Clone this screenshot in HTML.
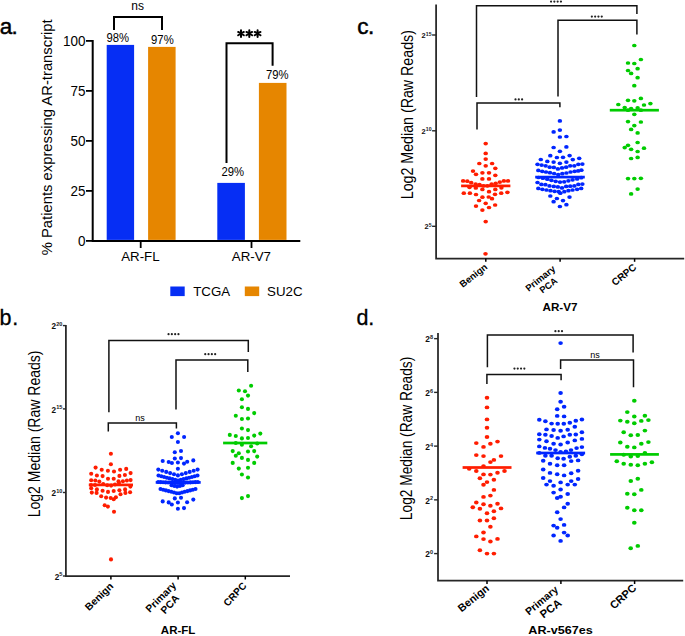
<!DOCTYPE html>
<html><head><meta charset="utf-8"><style>
html,body{margin:0;padding:0;background:#fff;}
svg{display:block;font-family:"Liberation Sans", sans-serif;}
</style></head><body>
<svg width="685" height="636" viewBox="0 0 685 636">
<rect width="685" height="636" fill="#fff"/>
<text x="-0.3" y="33.6" font-size="22.5" text-anchor="start" font-weight="normal" fill="#000" stroke="#000" stroke-width="0.45" letter-spacing="-0.8">a.</text>
<path d="M92.7,40.0 L92.7,240.9 L300.3,240.9" stroke="#000" stroke-width="2.0" fill="none"/>
<path d="M86,240.9 L92.7,240.9" stroke="#000" stroke-width="1.8" fill="none"/>
<text x="85.5" y="245.9" font-size="14.6" text-anchor="end" font-weight="normal" fill="#000" textLength="7.5" lengthAdjust="spacingAndGlyphs">0</text>
<path d="M86,190.9 L92.7,190.9" stroke="#000" stroke-width="1.8" fill="none"/>
<text x="85.5" y="195.9" font-size="14.6" text-anchor="end" font-weight="normal" fill="#000" textLength="15.0" lengthAdjust="spacingAndGlyphs">25</text>
<path d="M86,140.9 L92.7,140.9" stroke="#000" stroke-width="1.8" fill="none"/>
<text x="85.5" y="145.9" font-size="14.6" text-anchor="end" font-weight="normal" fill="#000" textLength="15.0" lengthAdjust="spacingAndGlyphs">50</text>
<path d="M86,90.9 L92.7,90.9" stroke="#000" stroke-width="1.8" fill="none"/>
<text x="85.5" y="95.9" font-size="14.6" text-anchor="end" font-weight="normal" fill="#000" textLength="15.0" lengthAdjust="spacingAndGlyphs">75</text>
<path d="M86,40.900000000000006 L92.7,40.900000000000006" stroke="#000" stroke-width="1.8" fill="none"/>
<text x="85.5" y="45.900000000000006" font-size="14.6" text-anchor="end" font-weight="normal" fill="#000" textLength="22.5" lengthAdjust="spacingAndGlyphs">100</text>
<path d="M140.7,240.9 L140.7,248.0" stroke="#000" stroke-width="1.8" fill="none"/>
<path d="M251.5,240.9 L251.5,248.0" stroke="#000" stroke-width="1.8" fill="none"/>
<rect x="106.7" y="44.900000000000006" width="27.39999999999999" height="195.0" fill="#062ef4"/>
<rect x="148.1" y="46.900000000000006" width="27.5" height="193.0" fill="#e68600"/>
<rect x="217.3" y="182.9" width="27.599999999999994" height="57.0" fill="#062ef4"/>
<rect x="258.9" y="82.9" width="27.600000000000023" height="157.0" fill="#e68600"/>
<text x="117.8" y="42.2" font-size="12.3" text-anchor="middle" font-weight="normal" fill="#000" textLength="22.6" lengthAdjust="spacingAndGlyphs">98%</text>
<text x="162.4" y="43.6" font-size="12.3" text-anchor="middle" font-weight="normal" fill="#000" textLength="22.6" lengthAdjust="spacingAndGlyphs">97%</text>
<text x="232.7" y="176.2" font-size="12.3" text-anchor="middle" font-weight="normal" fill="#000" textLength="22.6" lengthAdjust="spacingAndGlyphs">29%</text>
<text x="277.2" y="78.6" font-size="12.3" text-anchor="middle" font-weight="normal" fill="#000" textLength="22.6" lengthAdjust="spacingAndGlyphs">79%</text>
<path d="M114,30 L114,17 L162,17 L162,30" stroke="#000" stroke-width="2.0" fill="none"/>
<text x="137.6" y="9.6" font-size="12" text-anchor="middle" font-weight="normal" fill="#000" fill="#222">ns</text>
<path d="M226.5,163 L226.5,43.3 L272.6,43.3 L272.6,65.8" stroke="#000" stroke-width="2.0" fill="none"/>
<path d="M241.00,30.30 L241.00,36.90 M238.14,31.95 L243.86,35.25 M243.86,31.95 L238.14,35.25 " stroke="#000" stroke-width="2.0" stroke-linecap="round" fill="none"/>
<path d="M249.30,30.30 L249.30,36.90 M246.44,31.95 L252.16,35.25 M252.16,31.95 L246.44,35.25 " stroke="#000" stroke-width="2.0" stroke-linecap="round" fill="none"/>
<path d="M257.60,30.30 L257.60,36.90 M254.74,31.95 L260.46,35.25 M260.46,31.95 L254.74,35.25 " stroke="#000" stroke-width="2.0" stroke-linecap="round" fill="none"/>
<text x="0" y="0" font-size="15.2" text-anchor="middle" font-weight="normal" fill="#000" textLength="236" lengthAdjust="spacingAndGlyphs" transform="translate(51.8,137.3) rotate(-90)">% Patients expressing AR-transcript</text>
<text x="140.4" y="260.6" font-size="13.3" text-anchor="middle" font-weight="normal" fill="#000" >AR-FL</text>
<text x="251.4" y="260.6" font-size="13.3" text-anchor="middle" font-weight="normal" fill="#000" >AR-V7</text>
<rect x="170.3" y="286.5" width="14.399999999999977" height="9.600000000000023" fill="#062ef4"/>
<text x="193.2" y="296.3" font-size="13.3" text-anchor="start" font-weight="normal" fill="#000" >TCGA</text>
<rect x="244.8" y="286.5" width="14.399999999999977" height="9.600000000000023" fill="#e68600"/>
<text x="267.1" y="296.3" font-size="13.3" text-anchor="start" font-weight="normal" fill="#000" >SU2C</text>
<text x="-0.6" y="324.6" font-size="21.5" text-anchor="start" font-weight="normal" fill="#000" stroke="#000" stroke-width="0.3" letter-spacing="0.8">b.</text>
<path d="M65.9,325.0 L65.9,576.0 L290.0,576.0" stroke="#262626" stroke-width="1.75" fill="none"/>
<path d="M62.900000000000006,325.6 L65.9,325.6" stroke="#262626" stroke-width="1.4" fill="none"/>
<text x="62.40" y="326.00" font-size="5.6" font-weight="bold" text-anchor="end" fill="#222">20</text>
<text x="56.07" y="329.20" font-size="8.2" font-weight="bold" text-anchor="end" fill="#111">2</text>
<path d="M62.900000000000006,408.9 L65.9,408.9" stroke="#262626" stroke-width="1.4" fill="none"/>
<text x="62.40" y="409.30" font-size="5.6" font-weight="bold" text-anchor="end" fill="#222">15</text>
<text x="56.07" y="412.50" font-size="8.2" font-weight="bold" text-anchor="end" fill="#111">2</text>
<path d="M62.900000000000006,492.5 L65.9,492.5" stroke="#262626" stroke-width="1.4" fill="none"/>
<text x="62.40" y="492.90" font-size="5.6" font-weight="bold" text-anchor="end" fill="#222">10</text>
<text x="56.07" y="496.10" font-size="8.2" font-weight="bold" text-anchor="end" fill="#111">2</text>
<path d="M62.900000000000006,576.0 L65.9,576.0" stroke="#262626" stroke-width="1.4" fill="none"/>
<text x="62.40" y="576.40" font-size="5.6" font-weight="bold" text-anchor="end" fill="#222">5</text>
<text x="59.19" y="579.60" font-size="8.2" font-weight="bold" text-anchor="end" fill="#111">2</text>
<path d="M110.9,576.0 L110.9,579.5" stroke="#000" stroke-width="1.5" fill="none"/>
<path d="M178.1,576.0 L178.1,579.5" stroke="#000" stroke-width="1.5" fill="none"/>
<path d="M245.3,576.0 L245.3,579.5" stroke="#000" stroke-width="1.5" fill="none"/>
<text font-size="10.25" font-weight="bold" text-anchor="end" transform="translate(114.0,587.0) rotate(-44)">Benign</text>
<text font-size="10.25" font-weight="bold" text-anchor="end" transform="translate(176.8,586.0) rotate(-45)">Primary</text>
<text font-size="10.25" font-weight="bold" text-anchor="end" transform="translate(179.8,598.7) rotate(-47)">PCA</text>
<text font-size="10.0" font-weight="bold" text-anchor="end" transform="translate(247.1,586.2) rotate(-47)">CRPC</text>
<text x="178.1" y="634.4" font-size="11.5" text-anchor="middle" font-weight="bold" fill="#000" >AR-FL</text>
<text font-size="16" text-anchor="middle" textLength="166.8" lengthAdjust="spacingAndGlyphs" transform="translate(39.6,433.9) rotate(-90)">Log2 Median (Raw Reads)</text>
<path d="M108.9,412.3 L108.9,340.6 L248.3,340.6 L248.3,352" stroke="#111" stroke-width="1.5" fill="none"/>
<circle cx="168.55" cy="334.2" r="1.1" fill="#222"/>
<circle cx="171.85" cy="334.2" r="1.1" fill="#222"/>
<circle cx="175.15" cy="334.2" r="1.1" fill="#222"/>
<circle cx="178.45" cy="334.2" r="1.1" fill="#222"/>
<path d="M176,409.5 L176,359.9 L247.8,359.9 L247.8,371.9" stroke="#111" stroke-width="1.5" fill="none"/>
<circle cx="205.25" cy="354.2" r="1.1" fill="#222"/>
<circle cx="208.55" cy="354.2" r="1.1" fill="#222"/>
<circle cx="211.85" cy="354.2" r="1.1" fill="#222"/>
<circle cx="215.15" cy="354.2" r="1.1" fill="#222"/>
<path d="M108.3,431.4 L108.3,422.9 L176.4,422.9 L176.4,428.5" stroke="#111" stroke-width="1.5" fill="none"/>
<text x="140.1" y="421.0" font-size="9" text-anchor="middle" font-weight="normal" fill="#000" fill="#222">ns</text>
<text x="357.2" y="33.8" font-size="22.5" text-anchor="start" font-weight="normal" fill="#000" stroke="#000" stroke-width="0.5" letter-spacing="-0.5">c.</text>
<path d="M436.1,4.4 L436.1,258.5 L684.2,258.5" stroke="#262626" stroke-width="1.75" fill="none"/>
<path d="M432.1,35.0 L436.1,35.0" stroke="#262626" stroke-width="1.4" fill="none"/>
<text x="431.60" y="35.60" font-size="5.2" font-weight="bold" text-anchor="end" fill="#222">15</text>
<text x="425.72" y="37.90" font-size="7.4" font-weight="bold" text-anchor="end" fill="#111">2</text>
<path d="M432.1,130.8 L436.1,130.8" stroke="#262626" stroke-width="1.4" fill="none"/>
<text x="431.60" y="131.40" font-size="5.2" font-weight="bold" text-anchor="end" fill="#222">10</text>
<text x="425.72" y="133.70" font-size="7.4" font-weight="bold" text-anchor="end" fill="#111">2</text>
<path d="M432.1,226.3 L436.1,226.3" stroke="#262626" stroke-width="1.4" fill="none"/>
<text x="431.60" y="226.90" font-size="5.2" font-weight="bold" text-anchor="end" fill="#222">5</text>
<text x="428.61" y="229.20" font-size="7.4" font-weight="bold" text-anchor="end" fill="#111">2</text>
<path d="M485.8,258.5 L485.8,261.8" stroke="#000" stroke-width="1.5" fill="none"/>
<path d="M560.1,258.5 L560.1,261.8" stroke="#000" stroke-width="1.5" fill="none"/>
<path d="M634.6,258.5 L634.6,261.8" stroke="#000" stroke-width="1.5" fill="none"/>
<text font-size="9.5" font-weight="bold" text-anchor="end" transform="translate(488.1,268.1) rotate(-38)">Benign</text>
<text font-size="9.5" font-weight="bold" text-anchor="end" transform="translate(556.2,269.8) rotate(-39)">Primary</text>
<text font-size="9.25" font-weight="bold" text-anchor="end" transform="translate(558.1,282.1) rotate(-37)">PCA</text>
<text font-size="10.0" font-weight="bold" text-anchor="end" transform="translate(637.1,268.4) rotate(-39)">CRPC</text>
<text x="560" y="311" font-size="10.2" text-anchor="middle" font-weight="bold" fill="#000" textLength="35" lengthAdjust="spacingAndGlyphs">AR-V7</text>
<text font-size="16" text-anchor="middle" textLength="169.2" lengthAdjust="spacingAndGlyphs" transform="translate(412.9,114.65) rotate(-90)">Log2 Median (Raw Reads)</text>
<path d="M476.5,97 L476.5,5.8 L636.9,5.8 L636.9,14" stroke="#111" stroke-width="1.5" fill="none"/>
<circle cx="551.05" cy="1.6" r="1.1" fill="#222"/>
<circle cx="554.35" cy="1.6" r="1.1" fill="#222"/>
<circle cx="557.65" cy="1.6" r="1.1" fill="#222"/>
<circle cx="560.95" cy="1.6" r="1.1" fill="#222"/>
<path d="M558,96.6 L558,20.2 L636.9,20.2 L636.9,34.5" stroke="#111" stroke-width="1.5" fill="none"/>
<circle cx="591.85" cy="16.6" r="1.1" fill="#222"/>
<circle cx="595.15" cy="16.6" r="1.1" fill="#222"/>
<circle cx="598.45" cy="16.6" r="1.1" fill="#222"/>
<circle cx="601.75" cy="16.6" r="1.1" fill="#222"/>
<path d="M477,129.6 L477,103.1 L559.9,103.1 L559.9,107.2" stroke="#111" stroke-width="1.5" fill="none"/>
<circle cx="515.50" cy="99.4" r="1.1" fill="#222"/>
<circle cx="518.80" cy="99.4" r="1.1" fill="#222"/>
<circle cx="522.10" cy="99.4" r="1.1" fill="#222"/>
<text x="356.4" y="324.6" font-size="21.5" text-anchor="start" font-weight="normal" fill="#000" stroke="#000" stroke-width="0.3">d.</text>
<path d="M438.0,332.9 L438.0,580.5 L683.2,580.5" stroke="#262626" stroke-width="1.75" fill="none"/>
<path d="M434.1,338.64 L438.0,338.64" stroke="#262626" stroke-width="1.4" fill="none"/>
<text x="433.20" y="339.04" font-size="5.6" font-weight="bold" text-anchor="end" fill="#222">8</text>
<text x="429.99" y="342.34" font-size="8.4" font-weight="bold" text-anchor="end" fill="#111">2</text>
<path d="M434.1,392.38 L438.0,392.38" stroke="#262626" stroke-width="1.4" fill="none"/>
<text x="433.20" y="392.78" font-size="5.6" font-weight="bold" text-anchor="end" fill="#222">6</text>
<text x="429.99" y="396.08" font-size="8.4" font-weight="bold" text-anchor="end" fill="#111">2</text>
<path d="M434.1,446.12 L438.0,446.12" stroke="#262626" stroke-width="1.4" fill="none"/>
<text x="433.20" y="446.52" font-size="5.6" font-weight="bold" text-anchor="end" fill="#222">4</text>
<text x="429.99" y="449.82" font-size="8.4" font-weight="bold" text-anchor="end" fill="#111">2</text>
<path d="M434.1,499.86 L438.0,499.86" stroke="#262626" stroke-width="1.4" fill="none"/>
<text x="433.20" y="500.26" font-size="5.6" font-weight="bold" text-anchor="end" fill="#222">2</text>
<text x="429.99" y="503.56" font-size="8.4" font-weight="bold" text-anchor="end" fill="#111">2</text>
<path d="M434.1,553.6 L438.0,553.6" stroke="#262626" stroke-width="1.4" fill="none"/>
<text x="433.20" y="554.00" font-size="5.6" font-weight="bold" text-anchor="end" fill="#222">0</text>
<text x="429.99" y="557.30" font-size="8.4" font-weight="bold" text-anchor="end" fill="#111">2</text>
<path d="M487.0,580.5 L487.0,584" stroke="#000" stroke-width="1.5" fill="none"/>
<path d="M560.9,580.5 L560.9,584" stroke="#000" stroke-width="1.5" fill="none"/>
<path d="M634.6,580.5 L634.6,584" stroke="#000" stroke-width="1.5" fill="none"/>
<text font-size="10.75" font-weight="bold" text-anchor="end" transform="translate(489.9,589.5) rotate(-39)">Benign</text>
<text font-size="10.5" font-weight="bold" text-anchor="end" transform="translate(558.9,590.7) rotate(-40)">Primary</text>
<text font-size="11.25" font-weight="bold" text-anchor="end" transform="translate(562.5,604.5) rotate(-37)">PCA</text>
<text font-size="11.0" font-weight="bold" text-anchor="end" transform="translate(637.1,589.0) rotate(-42)">CRPC</text>
<text x="560.6" y="634.4" font-size="11.7" text-anchor="middle" font-weight="bold" fill="#000" textLength="64.5" lengthAdjust="spacingAndGlyphs">AR-v567es</text>
<text font-size="16" text-anchor="middle" textLength="163.4" lengthAdjust="spacingAndGlyphs" transform="translate(411.9,438.45) rotate(-90)">Log2 Median (Raw Reads)</text>
<path d="M487.4,367.2 L487.4,334.9 L633.1,334.9 L633.1,352.6" stroke="#111" stroke-width="1.5" fill="none"/>
<circle cx="555.40" cy="331.2" r="1.1" fill="#222"/>
<circle cx="558.70" cy="331.2" r="1.1" fill="#222"/>
<circle cx="562.00" cy="331.2" r="1.1" fill="#222"/>
<path d="M560.6,369.1 L560.6,360.1 L633.5,360.1 L633.5,387.2" stroke="#111" stroke-width="1.5" fill="none"/>
<text x="595.1" y="357.7" font-size="9" text-anchor="middle" font-weight="normal" fill="#000" fill="#222">ns</text>
<path d="M486.9,384 L486.9,374.6 L561.1,374.6 L561.1,380.3" stroke="#111" stroke-width="1.5" fill="none"/>
<circle cx="514.45" cy="368.6" r="1.1" fill="#222"/>
<circle cx="517.75" cy="368.6" r="1.1" fill="#222"/>
<circle cx="521.05" cy="368.6" r="1.1" fill="#222"/>
<circle cx="524.35" cy="368.6" r="1.1" fill="#222"/>
<ellipse cx="485.7" cy="143.6" rx="2.25" ry="1.85" fill="#ff1d00"/>
<ellipse cx="485.7" cy="153.4" rx="2.25" ry="1.85" fill="#ff1d00"/>
<ellipse cx="485.7" cy="159.1" rx="2.25" ry="1.85" fill="#ff1d00"/>
<ellipse cx="479.3" cy="163.5" rx="2.25" ry="1.85" fill="#ff1d00"/>
<ellipse cx="492.1" cy="163.5" rx="2.25" ry="1.85" fill="#ff1d00"/>
<ellipse cx="485.7" cy="165.8" rx="2.25" ry="1.85" fill="#ff1d00"/>
<ellipse cx="495.3" cy="168.3" rx="2.25" ry="1.85" fill="#ff1d00"/>
<ellipse cx="473" cy="171.1" rx="2.25" ry="1.85" fill="#ff1d00"/>
<ellipse cx="476" cy="174.3" rx="2.25" ry="1.85" fill="#ff1d00"/>
<ellipse cx="482.4" cy="172.8" rx="2.25" ry="1.85" fill="#ff1d00"/>
<ellipse cx="489" cy="172.8" rx="2.25" ry="1.85" fill="#ff1d00"/>
<ellipse cx="495.3" cy="175.3" rx="2.25" ry="1.85" fill="#ff1d00"/>
<ellipse cx="482.4" cy="178.9" rx="2.25" ry="1.85" fill="#ff1d00"/>
<ellipse cx="489" cy="178.9" rx="2.25" ry="1.85" fill="#ff1d00"/>
<ellipse cx="463.1" cy="180.9" rx="2.25" ry="1.85" fill="#ff1d00"/>
<ellipse cx="467.3" cy="181.2" rx="2.25" ry="1.85" fill="#ff1d00"/>
<ellipse cx="471.2" cy="182.7" rx="2.25" ry="1.85" fill="#ff1d00"/>
<ellipse cx="475.6" cy="184" rx="2.25" ry="1.85" fill="#ff1d00"/>
<ellipse cx="479.5" cy="184.5" rx="2.25" ry="1.85" fill="#ff1d00"/>
<ellipse cx="483.5" cy="185.8" rx="2.25" ry="1.85" fill="#ff1d00"/>
<ellipse cx="487.4" cy="185.8" rx="2.25" ry="1.85" fill="#ff1d00"/>
<ellipse cx="491.6" cy="184.2" rx="2.25" ry="1.85" fill="#ff1d00"/>
<ellipse cx="495.7" cy="183.3" rx="2.25" ry="1.85" fill="#ff1d00"/>
<ellipse cx="499.8" cy="182.1" rx="2.25" ry="1.85" fill="#ff1d00"/>
<ellipse cx="503.9" cy="180.9" rx="2.25" ry="1.85" fill="#ff1d00"/>
<ellipse cx="508" cy="180.9" rx="2.25" ry="1.85" fill="#ff1d00"/>
<ellipse cx="469.5" cy="187.3" rx="2.25" ry="1.85" fill="#ff1d00"/>
<ellipse cx="475.8" cy="188" rx="2.25" ry="1.85" fill="#ff1d00"/>
<ellipse cx="482.4" cy="189.4" rx="2.25" ry="1.85" fill="#ff1d00"/>
<ellipse cx="495.3" cy="189.4" rx="2.25" ry="1.85" fill="#ff1d00"/>
<ellipse cx="501.4" cy="187.8" rx="2.25" ry="1.85" fill="#ff1d00"/>
<ellipse cx="463.8" cy="193.2" rx="2.25" ry="1.85" fill="#ff1d00"/>
<ellipse cx="469.9" cy="193.2" rx="2.25" ry="1.85" fill="#ff1d00"/>
<ellipse cx="476" cy="194.5" rx="2.25" ry="1.85" fill="#ff1d00"/>
<ellipse cx="489" cy="191.7" rx="2.25" ry="1.85" fill="#ff1d00"/>
<ellipse cx="495" cy="194.3" rx="2.25" ry="1.85" fill="#ff1d00"/>
<ellipse cx="501.2" cy="193.2" rx="2.25" ry="1.85" fill="#ff1d00"/>
<ellipse cx="507.4" cy="192.3" rx="2.25" ry="1.85" fill="#ff1d00"/>
<ellipse cx="482.4" cy="197.2" rx="2.25" ry="1.85" fill="#ff1d00"/>
<ellipse cx="488.7" cy="197" rx="2.25" ry="1.85" fill="#ff1d00"/>
<ellipse cx="492" cy="198.7" rx="2.25" ry="1.85" fill="#ff1d00"/>
<ellipse cx="479.1" cy="200.5" rx="2.25" ry="1.85" fill="#ff1d00"/>
<ellipse cx="485.7" cy="203.3" rx="2.25" ry="1.85" fill="#ff1d00"/>
<ellipse cx="476" cy="206.1" rx="2.25" ry="1.85" fill="#ff1d00"/>
<ellipse cx="495.1" cy="205" rx="2.25" ry="1.85" fill="#ff1d00"/>
<ellipse cx="489" cy="207.5" rx="2.25" ry="1.85" fill="#ff1d00"/>
<ellipse cx="482.4" cy="210.1" rx="2.25" ry="1.85" fill="#ff1d00"/>
<ellipse cx="485.7" cy="221.6" rx="2.25" ry="1.85" fill="#ff1d00"/>
<ellipse cx="485.5" cy="253.8" rx="2.25" ry="1.85" fill="#ff1d00"/>
<rect x="461.1" y="184.55" width="49.299999999999955" height="2.7" fill="#ff1d00"/>
<ellipse cx="559.9" cy="120.9" rx="2.25" ry="1.85" fill="#0026ff"/>
<ellipse cx="559.9" cy="130.1" rx="2.25" ry="1.85" fill="#0026ff"/>
<ellipse cx="553.6" cy="131.9" rx="2.25" ry="1.85" fill="#0026ff"/>
<ellipse cx="559.9" cy="137" rx="2.25" ry="1.85" fill="#0026ff"/>
<ellipse cx="566.4" cy="136.5" rx="2.25" ry="1.85" fill="#0026ff"/>
<ellipse cx="553.6" cy="147.5" rx="2.25" ry="1.85" fill="#0026ff"/>
<ellipse cx="566.4" cy="146.9" rx="2.25" ry="1.85" fill="#0026ff"/>
<ellipse cx="559.9" cy="151.3" rx="2.25" ry="1.85" fill="#0026ff"/>
<ellipse cx="550.3" cy="155.7" rx="2.25" ry="1.85" fill="#0026ff"/>
<ellipse cx="556.9" cy="157.5" rx="2.25" ry="1.85" fill="#0026ff"/>
<ellipse cx="563" cy="157.3" rx="2.25" ry="1.85" fill="#0026ff"/>
<ellipse cx="569.6" cy="155.6" rx="2.25" ry="1.85" fill="#0026ff"/>
<ellipse cx="540.8" cy="159.5" rx="2.25" ry="1.85" fill="#0026ff"/>
<ellipse cx="572.8" cy="159.6" rx="2.25" ry="1.85" fill="#0026ff"/>
<ellipse cx="579.2" cy="158.3" rx="2.25" ry="1.85" fill="#0026ff"/>
<ellipse cx="547.3" cy="161.4" rx="2.25" ry="1.85" fill="#0026ff"/>
<ellipse cx="553.6" cy="162.1" rx="2.25" ry="1.85" fill="#0026ff"/>
<ellipse cx="559.9" cy="163.3" rx="2.25" ry="1.85" fill="#0026ff"/>
<ellipse cx="566.4" cy="162.1" rx="2.25" ry="1.85" fill="#0026ff"/>
<ellipse cx="537.5" cy="164.3" rx="2.25" ry="1.85" fill="#0026ff"/>
<ellipse cx="541.6" cy="165.1" rx="2.25" ry="1.85" fill="#0026ff"/>
<ellipse cx="545.6" cy="165.8" rx="2.25" ry="1.85" fill="#0026ff"/>
<ellipse cx="549.7" cy="167.2" rx="2.25" ry="1.85" fill="#0026ff"/>
<ellipse cx="553.9" cy="167.4" rx="2.25" ry="1.85" fill="#0026ff"/>
<ellipse cx="557.9" cy="168.9" rx="2.25" ry="1.85" fill="#0026ff"/>
<ellipse cx="562" cy="167.9" rx="2.25" ry="1.85" fill="#0026ff"/>
<ellipse cx="566.1" cy="167.2" rx="2.25" ry="1.85" fill="#0026ff"/>
<ellipse cx="570.2" cy="165.8" rx="2.25" ry="1.85" fill="#0026ff"/>
<ellipse cx="574.3" cy="165.8" rx="2.25" ry="1.85" fill="#0026ff"/>
<ellipse cx="578.3" cy="164.3" rx="2.25" ry="1.85" fill="#0026ff"/>
<ellipse cx="582.4" cy="164.1" rx="2.25" ry="1.85" fill="#0026ff"/>
<ellipse cx="538.3" cy="170.4" rx="2.25" ry="1.85" fill="#0026ff"/>
<ellipse cx="542.2" cy="171.3" rx="2.25" ry="1.85" fill="#0026ff"/>
<ellipse cx="546" cy="172" rx="2.25" ry="1.85" fill="#0026ff"/>
<ellipse cx="550" cy="172.7" rx="2.25" ry="1.85" fill="#0026ff"/>
<ellipse cx="554.1" cy="173.5" rx="2.25" ry="1.85" fill="#0026ff"/>
<ellipse cx="558.2" cy="174.5" rx="2.25" ry="1.85" fill="#0026ff"/>
<ellipse cx="562.3" cy="173.7" rx="2.25" ry="1.85" fill="#0026ff"/>
<ellipse cx="566.4" cy="173" rx="2.25" ry="1.85" fill="#0026ff"/>
<ellipse cx="570.5" cy="172" rx="2.25" ry="1.85" fill="#0026ff"/>
<ellipse cx="574.6" cy="171.3" rx="2.25" ry="1.85" fill="#0026ff"/>
<ellipse cx="578.1" cy="170.9" rx="2.25" ry="1.85" fill="#0026ff"/>
<ellipse cx="581.4" cy="170.2" rx="2.25" ry="1.85" fill="#0026ff"/>
<ellipse cx="542.9" cy="178.2" rx="2.25" ry="1.85" fill="#0026ff"/>
<ellipse cx="547.3" cy="179.2" rx="2.25" ry="1.85" fill="#0026ff"/>
<ellipse cx="551.4" cy="180.3" rx="2.25" ry="1.85" fill="#0026ff"/>
<ellipse cx="555.7" cy="181.3" rx="2.25" ry="1.85" fill="#0026ff"/>
<ellipse cx="560" cy="182.1" rx="2.25" ry="1.85" fill="#0026ff"/>
<ellipse cx="564.2" cy="181.8" rx="2.25" ry="1.85" fill="#0026ff"/>
<ellipse cx="568.4" cy="180.8" rx="2.25" ry="1.85" fill="#0026ff"/>
<ellipse cx="572.6" cy="179.8" rx="2.25" ry="1.85" fill="#0026ff"/>
<ellipse cx="577.1" cy="179" rx="2.25" ry="1.85" fill="#0026ff"/>
<ellipse cx="581.2" cy="177.7" rx="2.25" ry="1.85" fill="#0026ff"/>
<ellipse cx="538.5" cy="177.5" rx="2.25" ry="1.85" fill="#0026ff"/>
<ellipse cx="537.5" cy="182.5" rx="2.25" ry="1.85" fill="#0026ff"/>
<ellipse cx="541.4" cy="184.4" rx="2.25" ry="1.85" fill="#0026ff"/>
<ellipse cx="545.4" cy="184.7" rx="2.25" ry="1.85" fill="#0026ff"/>
<ellipse cx="549.5" cy="185.9" rx="2.25" ry="1.85" fill="#0026ff"/>
<ellipse cx="553.8" cy="186.4" rx="2.25" ry="1.85" fill="#0026ff"/>
<ellipse cx="557.9" cy="186.9" rx="2.25" ry="1.85" fill="#0026ff"/>
<ellipse cx="562" cy="187.9" rx="2.25" ry="1.85" fill="#0026ff"/>
<ellipse cx="566.1" cy="186.4" rx="2.25" ry="1.85" fill="#0026ff"/>
<ellipse cx="570.2" cy="186.2" rx="2.25" ry="1.85" fill="#0026ff"/>
<ellipse cx="574.3" cy="185.9" rx="2.25" ry="1.85" fill="#0026ff"/>
<ellipse cx="578.3" cy="184.4" rx="2.25" ry="1.85" fill="#0026ff"/>
<ellipse cx="582.4" cy="184.1" rx="2.25" ry="1.85" fill="#0026ff"/>
<ellipse cx="538.3" cy="188.4" rx="2.25" ry="1.85" fill="#0026ff"/>
<ellipse cx="542.4" cy="189.3" rx="2.25" ry="1.85" fill="#0026ff"/>
<ellipse cx="546.5" cy="190" rx="2.25" ry="1.85" fill="#0026ff"/>
<ellipse cx="550.5" cy="190.7" rx="2.25" ry="1.85" fill="#0026ff"/>
<ellipse cx="554.6" cy="191.3" rx="2.25" ry="1.85" fill="#0026ff"/>
<ellipse cx="558.7" cy="191.7" rx="2.25" ry="1.85" fill="#0026ff"/>
<ellipse cx="560.3" cy="193.2" rx="2.25" ry="1.85" fill="#0026ff"/>
<ellipse cx="564.3" cy="191.7" rx="2.25" ry="1.85" fill="#0026ff"/>
<ellipse cx="568.4" cy="190.7" rx="2.25" ry="1.85" fill="#0026ff"/>
<ellipse cx="572.5" cy="190" rx="2.25" ry="1.85" fill="#0026ff"/>
<ellipse cx="577.1" cy="189.3" rx="2.25" ry="1.85" fill="#0026ff"/>
<ellipse cx="581.2" cy="188.4" rx="2.25" ry="1.85" fill="#0026ff"/>
<ellipse cx="550.3" cy="196" rx="2.25" ry="1.85" fill="#0026ff"/>
<ellipse cx="556.9" cy="198.5" rx="2.25" ry="1.85" fill="#0026ff"/>
<ellipse cx="569.5" cy="197.1" rx="2.25" ry="1.85" fill="#0026ff"/>
<ellipse cx="553.6" cy="201.7" rx="2.25" ry="1.85" fill="#0026ff"/>
<ellipse cx="563" cy="200.6" rx="2.25" ry="1.85" fill="#0026ff"/>
<ellipse cx="566.4" cy="204.7" rx="2.25" ry="1.85" fill="#0026ff"/>
<ellipse cx="559.9" cy="206.5" rx="2.25" ry="1.85" fill="#0026ff"/>
<rect x="535.2" y="175.75" width="49.59999999999991" height="2.7" fill="#0026ff"/>
<ellipse cx="634.3" cy="45.5" rx="2.25" ry="1.85" fill="#00cc00"/>
<ellipse cx="640.9" cy="59.5" rx="2.25" ry="1.85" fill="#00cc00"/>
<ellipse cx="628" cy="63" rx="2.25" ry="1.85" fill="#00cc00"/>
<ellipse cx="634.3" cy="63.5" rx="2.25" ry="1.85" fill="#00cc00"/>
<ellipse cx="637.6" cy="68.7" rx="2.25" ry="1.85" fill="#00cc00"/>
<ellipse cx="628" cy="70.5" rx="2.25" ry="1.85" fill="#00cc00"/>
<ellipse cx="631.1" cy="73.4" rx="2.25" ry="1.85" fill="#00cc00"/>
<ellipse cx="637.6" cy="77.7" rx="2.25" ry="1.85" fill="#00cc00"/>
<ellipse cx="634.3" cy="85.7" rx="2.25" ry="1.85" fill="#00cc00"/>
<ellipse cx="628" cy="100.3" rx="2.25" ry="1.85" fill="#00cc00"/>
<ellipse cx="634.3" cy="100.8" rx="2.25" ry="1.85" fill="#00cc00"/>
<ellipse cx="640.9" cy="98.4" rx="2.25" ry="1.85" fill="#00cc00"/>
<ellipse cx="618.3" cy="104.5" rx="2.25" ry="1.85" fill="#00cc00"/>
<ellipse cx="644" cy="105" rx="2.25" ry="1.85" fill="#00cc00"/>
<ellipse cx="650.4" cy="103.6" rx="2.25" ry="1.85" fill="#00cc00"/>
<ellipse cx="624.7" cy="107.6" rx="2.25" ry="1.85" fill="#00cc00"/>
<ellipse cx="631.1" cy="108.5" rx="2.25" ry="1.85" fill="#00cc00"/>
<ellipse cx="637.6" cy="107.9" rx="2.25" ry="1.85" fill="#00cc00"/>
<ellipse cx="628" cy="110.2" rx="2.25" ry="1.85" fill="#00cc00"/>
<ellipse cx="640.9" cy="110.2" rx="2.25" ry="1.85" fill="#00cc00"/>
<ellipse cx="634.3" cy="114.3" rx="2.25" ry="1.85" fill="#00cc00"/>
<ellipse cx="628" cy="121.6" rx="2.25" ry="1.85" fill="#00cc00"/>
<ellipse cx="640.9" cy="122" rx="2.25" ry="1.85" fill="#00cc00"/>
<ellipse cx="634.3" cy="125.6" rx="2.25" ry="1.85" fill="#00cc00"/>
<ellipse cx="631.1" cy="129.4" rx="2.25" ry="1.85" fill="#00cc00"/>
<ellipse cx="637.6" cy="132.9" rx="2.25" ry="1.85" fill="#00cc00"/>
<ellipse cx="637.6" cy="142.5" rx="2.25" ry="1.85" fill="#00cc00"/>
<ellipse cx="628" cy="145.3" rx="2.25" ry="1.85" fill="#00cc00"/>
<ellipse cx="624.7" cy="147.6" rx="2.25" ry="1.85" fill="#00cc00"/>
<ellipse cx="631.1" cy="149.3" rx="2.25" ry="1.85" fill="#00cc00"/>
<ellipse cx="644" cy="148.2" rx="2.25" ry="1.85" fill="#00cc00"/>
<ellipse cx="637.6" cy="151.5" rx="2.25" ry="1.85" fill="#00cc00"/>
<ellipse cx="631.1" cy="158.5" rx="2.25" ry="1.85" fill="#00cc00"/>
<ellipse cx="637.6" cy="157.4" rx="2.25" ry="1.85" fill="#00cc00"/>
<ellipse cx="628" cy="178.6" rx="2.25" ry="1.85" fill="#00cc00"/>
<ellipse cx="634.3" cy="178.6" rx="2.25" ry="1.85" fill="#00cc00"/>
<ellipse cx="640.9" cy="178.3" rx="2.25" ry="1.85" fill="#00cc00"/>
<ellipse cx="637.6" cy="189.1" rx="2.25" ry="1.85" fill="#00cc00"/>
<ellipse cx="631.1" cy="193.9" rx="2.25" ry="1.85" fill="#00cc00"/>
<rect x="609.8" y="108.85000000000001" width="49.10000000000002" height="2.7" fill="#00cc00"/>
<ellipse cx="110.9" cy="453.8" rx="2.05" ry="2.05" fill="#ff1d00"/>
<ellipse cx="110.9" cy="464.3" rx="2.05" ry="2.05" fill="#ff1d00"/>
<ellipse cx="95.6" cy="467.6" rx="2.05" ry="2.05" fill="#ff1d00"/>
<ellipse cx="101.7" cy="469.8" rx="2.05" ry="2.05" fill="#ff1d00"/>
<ellipse cx="107.9" cy="470.8" rx="2.05" ry="2.05" fill="#ff1d00"/>
<ellipse cx="114" cy="471.5" rx="2.05" ry="2.05" fill="#ff1d00"/>
<ellipse cx="120.1" cy="469.8" rx="2.05" ry="2.05" fill="#ff1d00"/>
<ellipse cx="126.2" cy="468.9" rx="2.05" ry="2.05" fill="#ff1d00"/>
<ellipse cx="91.2" cy="473.7" rx="2.05" ry="2.05" fill="#ff1d00"/>
<ellipse cx="96.9" cy="475.5" rx="2.05" ry="2.05" fill="#ff1d00"/>
<ellipse cx="102.6" cy="476.1" rx="2.05" ry="2.05" fill="#ff1d00"/>
<ellipse cx="119.4" cy="475.9" rx="2.05" ry="2.05" fill="#ff1d00"/>
<ellipse cx="124.9" cy="475" rx="2.05" ry="2.05" fill="#ff1d00"/>
<ellipse cx="130.6" cy="473.1" rx="2.05" ry="2.05" fill="#ff1d00"/>
<ellipse cx="108" cy="478.7" rx="2.05" ry="2.05" fill="#ff1d00"/>
<ellipse cx="113.7" cy="478.7" rx="2.05" ry="2.05" fill="#ff1d00"/>
<ellipse cx="91.2" cy="480.3" rx="2.05" ry="2.05" fill="#ff1d00"/>
<ellipse cx="95.3" cy="480.5" rx="2.05" ry="2.05" fill="#ff1d00"/>
<ellipse cx="99.3" cy="481.6" rx="2.05" ry="2.05" fill="#ff1d00"/>
<ellipse cx="118.5" cy="481.4" rx="2.05" ry="2.05" fill="#ff1d00"/>
<ellipse cx="122.9" cy="481.2" rx="2.05" ry="2.05" fill="#ff1d00"/>
<ellipse cx="126.9" cy="480.5" rx="2.05" ry="2.05" fill="#ff1d00"/>
<ellipse cx="130.6" cy="480.1" rx="2.05" ry="2.05" fill="#ff1d00"/>
<ellipse cx="103.2" cy="484" rx="2.05" ry="2.05" fill="#ff1d00"/>
<ellipse cx="107.2" cy="485.3" rx="2.05" ry="2.05" fill="#ff1d00"/>
<ellipse cx="111.1" cy="485.6" rx="2.05" ry="2.05" fill="#ff1d00"/>
<ellipse cx="115" cy="484.5" rx="2.05" ry="2.05" fill="#ff1d00"/>
<ellipse cx="119" cy="483.1" rx="2.05" ry="2.05" fill="#ff1d00"/>
<ellipse cx="130.4" cy="486.6" rx="2.05" ry="2.05" fill="#ff1d00"/>
<ellipse cx="91" cy="485" rx="2.05" ry="2.05" fill="#ff1d00"/>
<ellipse cx="95" cy="485" rx="2.05" ry="2.05" fill="#ff1d00"/>
<ellipse cx="91.2" cy="488.2" rx="2.05" ry="2.05" fill="#ff1d00"/>
<ellipse cx="96.9" cy="489.4" rx="2.05" ry="2.05" fill="#ff1d00"/>
<ellipse cx="102.6" cy="490.8" rx="2.05" ry="2.05" fill="#ff1d00"/>
<ellipse cx="108" cy="491.9" rx="2.05" ry="2.05" fill="#ff1d00"/>
<ellipse cx="113.7" cy="491" rx="2.05" ry="2.05" fill="#ff1d00"/>
<ellipse cx="119.4" cy="490.3" rx="2.05" ry="2.05" fill="#ff1d00"/>
<ellipse cx="125.1" cy="489.4" rx="2.05" ry="2.05" fill="#ff1d00"/>
<ellipse cx="91.8" cy="492.6" rx="2.05" ry="2.05" fill="#ff1d00"/>
<ellipse cx="96.6" cy="492.9" rx="2.05" ry="2.05" fill="#ff1d00"/>
<ellipse cx="120.5" cy="494.3" rx="2.05" ry="2.05" fill="#ff1d00"/>
<ellipse cx="125.4" cy="492.9" rx="2.05" ry="2.05" fill="#ff1d00"/>
<ellipse cx="130.1" cy="492.3" rx="2.05" ry="2.05" fill="#ff1d00"/>
<ellipse cx="101.2" cy="496.3" rx="2.05" ry="2.05" fill="#ff1d00"/>
<ellipse cx="106.1" cy="497.6" rx="2.05" ry="2.05" fill="#ff1d00"/>
<ellipse cx="110.7" cy="498" rx="2.05" ry="2.05" fill="#ff1d00"/>
<ellipse cx="113.7" cy="499.3" rx="2.05" ry="2.05" fill="#ff1d00"/>
<ellipse cx="115.9" cy="497.2" rx="2.05" ry="2.05" fill="#ff1d00"/>
<ellipse cx="104.7" cy="505.2" rx="2.05" ry="2.05" fill="#ff1d00"/>
<ellipse cx="107.9" cy="506.6" rx="2.05" ry="2.05" fill="#ff1d00"/>
<ellipse cx="114" cy="511.8" rx="2.05" ry="2.05" fill="#ff1d00"/>
<ellipse cx="111" cy="559.4" rx="2.05" ry="2.05" fill="#ff1d00"/>
<rect x="88.8" y="483.54999999999995" width="44.2" height="2.7" fill="#ff1d00"/>
<ellipse cx="177.9" cy="433.3" rx="2.05" ry="2.05" fill="#0026ff"/>
<ellipse cx="171.8" cy="437" rx="2.05" ry="2.05" fill="#0026ff"/>
<ellipse cx="184.1" cy="437" rx="2.05" ry="2.05" fill="#0026ff"/>
<ellipse cx="177.9" cy="442" rx="2.05" ry="2.05" fill="#0026ff"/>
<ellipse cx="174.8" cy="452.2" rx="2.05" ry="2.05" fill="#0026ff"/>
<ellipse cx="181" cy="451" rx="2.05" ry="2.05" fill="#0026ff"/>
<ellipse cx="174.8" cy="458.5" rx="2.05" ry="2.05" fill="#0026ff"/>
<ellipse cx="181" cy="458.1" rx="2.05" ry="2.05" fill="#0026ff"/>
<ellipse cx="162.7" cy="461" rx="2.05" ry="2.05" fill="#0026ff"/>
<ellipse cx="168.7" cy="462" rx="2.05" ry="2.05" fill="#0026ff"/>
<ellipse cx="171.9" cy="463" rx="2.05" ry="2.05" fill="#0026ff"/>
<ellipse cx="177.9" cy="462.5" rx="2.05" ry="2.05" fill="#0026ff"/>
<ellipse cx="184" cy="463.6" rx="2.05" ry="2.05" fill="#0026ff"/>
<ellipse cx="187.2" cy="461.7" rx="2.05" ry="2.05" fill="#0026ff"/>
<ellipse cx="193.3" cy="460.4" rx="2.05" ry="2.05" fill="#0026ff"/>
<ellipse cx="177.9" cy="468.7" rx="2.05" ry="2.05" fill="#0026ff"/>
<ellipse cx="158.3" cy="469.6" rx="2.05" ry="2.05" fill="#0026ff"/>
<ellipse cx="162.2" cy="470.8" rx="2.05" ry="2.05" fill="#0026ff"/>
<ellipse cx="166.2" cy="471.9" rx="2.05" ry="2.05" fill="#0026ff"/>
<ellipse cx="170.1" cy="473.1" rx="2.05" ry="2.05" fill="#0026ff"/>
<ellipse cx="174.0" cy="474.2" rx="2.05" ry="2.05" fill="#0026ff"/>
<ellipse cx="177.9" cy="475.4" rx="2.05" ry="2.05" fill="#0026ff"/>
<ellipse cx="181.9" cy="474.2" rx="2.05" ry="2.05" fill="#0026ff"/>
<ellipse cx="185.8" cy="473.1" rx="2.05" ry="2.05" fill="#0026ff"/>
<ellipse cx="189.7" cy="471.9" rx="2.05" ry="2.05" fill="#0026ff"/>
<ellipse cx="193.7" cy="470.8" rx="2.05" ry="2.05" fill="#0026ff"/>
<ellipse cx="197.6" cy="469.6" rx="2.05" ry="2.05" fill="#0026ff"/>
<ellipse cx="158.5" cy="475.5" rx="2.05" ry="2.05" fill="#0026ff"/>
<ellipse cx="161.3" cy="476.2" rx="2.05" ry="2.05" fill="#0026ff"/>
<ellipse cx="164.1" cy="477.0" rx="2.05" ry="2.05" fill="#0026ff"/>
<ellipse cx="166.9" cy="477.7" rx="2.05" ry="2.05" fill="#0026ff"/>
<ellipse cx="169.6" cy="478.4" rx="2.05" ry="2.05" fill="#0026ff"/>
<ellipse cx="172.4" cy="479.1" rx="2.05" ry="2.05" fill="#0026ff"/>
<ellipse cx="175.2" cy="479.9" rx="2.05" ry="2.05" fill="#0026ff"/>
<ellipse cx="178.0" cy="480.6" rx="2.05" ry="2.05" fill="#0026ff"/>
<ellipse cx="180.8" cy="479.9" rx="2.05" ry="2.05" fill="#0026ff"/>
<ellipse cx="183.6" cy="479.1" rx="2.05" ry="2.05" fill="#0026ff"/>
<ellipse cx="186.4" cy="478.4" rx="2.05" ry="2.05" fill="#0026ff"/>
<ellipse cx="189.1" cy="477.7" rx="2.05" ry="2.05" fill="#0026ff"/>
<ellipse cx="191.9" cy="477.0" rx="2.05" ry="2.05" fill="#0026ff"/>
<ellipse cx="194.7" cy="476.2" rx="2.05" ry="2.05" fill="#0026ff"/>
<ellipse cx="197.5" cy="475.5" rx="2.05" ry="2.05" fill="#0026ff"/>
<ellipse cx="158.2" cy="482.0" rx="2.05" ry="2.05" fill="#0026ff"/>
<ellipse cx="160.7" cy="482.1" rx="2.05" ry="2.05" fill="#0026ff"/>
<ellipse cx="163.1" cy="482.2" rx="2.05" ry="2.05" fill="#0026ff"/>
<ellipse cx="165.6" cy="482.4" rx="2.05" ry="2.05" fill="#0026ff"/>
<ellipse cx="168.1" cy="482.5" rx="2.05" ry="2.05" fill="#0026ff"/>
<ellipse cx="170.6" cy="482.6" rx="2.05" ry="2.05" fill="#0026ff"/>
<ellipse cx="173.1" cy="482.8" rx="2.05" ry="2.05" fill="#0026ff"/>
<ellipse cx="175.5" cy="482.9" rx="2.05" ry="2.05" fill="#0026ff"/>
<ellipse cx="178.0" cy="483.0" rx="2.05" ry="2.05" fill="#0026ff"/>
<ellipse cx="180.5" cy="482.9" rx="2.05" ry="2.05" fill="#0026ff"/>
<ellipse cx="182.9" cy="482.8" rx="2.05" ry="2.05" fill="#0026ff"/>
<ellipse cx="185.4" cy="482.6" rx="2.05" ry="2.05" fill="#0026ff"/>
<ellipse cx="187.9" cy="482.5" rx="2.05" ry="2.05" fill="#0026ff"/>
<ellipse cx="190.4" cy="482.4" rx="2.05" ry="2.05" fill="#0026ff"/>
<ellipse cx="192.9" cy="482.2" rx="2.05" ry="2.05" fill="#0026ff"/>
<ellipse cx="195.3" cy="482.1" rx="2.05" ry="2.05" fill="#0026ff"/>
<ellipse cx="197.8" cy="482.0" rx="2.05" ry="2.05" fill="#0026ff"/>
<ellipse cx="171.5" cy="485.2" rx="2.05" ry="2.05" fill="#0026ff"/>
<ellipse cx="174.3" cy="486.0" rx="2.05" ry="2.05" fill="#0026ff"/>
<ellipse cx="177.1" cy="486.6" rx="2.05" ry="2.05" fill="#0026ff"/>
<ellipse cx="179.9" cy="486.0" rx="2.05" ry="2.05" fill="#0026ff"/>
<ellipse cx="182.7" cy="485.2" rx="2.05" ry="2.05" fill="#0026ff"/>
<ellipse cx="160.5" cy="489.0" rx="2.05" ry="2.05" fill="#0026ff"/>
<ellipse cx="163.2" cy="489.7" rx="2.05" ry="2.05" fill="#0026ff"/>
<ellipse cx="165.9" cy="490.4" rx="2.05" ry="2.05" fill="#0026ff"/>
<ellipse cx="168.6" cy="491.1" rx="2.05" ry="2.05" fill="#0026ff"/>
<ellipse cx="171.3" cy="491.8" rx="2.05" ry="2.05" fill="#0026ff"/>
<ellipse cx="174.0" cy="492.5" rx="2.05" ry="2.05" fill="#0026ff"/>
<ellipse cx="176.7" cy="493.2" rx="2.05" ry="2.05" fill="#0026ff"/>
<ellipse cx="179.3" cy="493.2" rx="2.05" ry="2.05" fill="#0026ff"/>
<ellipse cx="182.0" cy="492.5" rx="2.05" ry="2.05" fill="#0026ff"/>
<ellipse cx="184.7" cy="491.8" rx="2.05" ry="2.05" fill="#0026ff"/>
<ellipse cx="187.4" cy="491.1" rx="2.05" ry="2.05" fill="#0026ff"/>
<ellipse cx="190.1" cy="490.4" rx="2.05" ry="2.05" fill="#0026ff"/>
<ellipse cx="192.8" cy="489.7" rx="2.05" ry="2.05" fill="#0026ff"/>
<ellipse cx="195.5" cy="489.0" rx="2.05" ry="2.05" fill="#0026ff"/>
<ellipse cx="174.8" cy="498.4" rx="2.05" ry="2.05" fill="#0026ff"/>
<ellipse cx="181" cy="497.8" rx="2.05" ry="2.05" fill="#0026ff"/>
<ellipse cx="162.7" cy="501.4" rx="2.05" ry="2.05" fill="#0026ff"/>
<ellipse cx="168.7" cy="502.4" rx="2.05" ry="2.05" fill="#0026ff"/>
<ellipse cx="171.8" cy="504.5" rx="2.05" ry="2.05" fill="#0026ff"/>
<ellipse cx="177.9" cy="502.5" rx="2.05" ry="2.05" fill="#0026ff"/>
<ellipse cx="187.1" cy="502.2" rx="2.05" ry="2.05" fill="#0026ff"/>
<ellipse cx="193.3" cy="499.6" rx="2.05" ry="2.05" fill="#0026ff"/>
<ellipse cx="177.9" cy="508.8" rx="2.05" ry="2.05" fill="#0026ff"/>
<ellipse cx="184" cy="508.1" rx="2.05" ry="2.05" fill="#0026ff"/>
<rect x="155.7" y="481.04999999999995" width="45.0" height="2.7" fill="#0026ff"/>
<ellipse cx="251.1" cy="385.7" rx="2.05" ry="2.05" fill="#00cc00"/>
<ellipse cx="238.8" cy="390.5" rx="2.05" ry="2.05" fill="#00cc00"/>
<ellipse cx="245" cy="391.2" rx="2.05" ry="2.05" fill="#00cc00"/>
<ellipse cx="248" cy="395.6" rx="2.05" ry="2.05" fill="#00cc00"/>
<ellipse cx="241.9" cy="399.3" rx="2.05" ry="2.05" fill="#00cc00"/>
<ellipse cx="241.9" cy="407.2" rx="2.05" ry="2.05" fill="#00cc00"/>
<ellipse cx="248" cy="408.9" rx="2.05" ry="2.05" fill="#00cc00"/>
<ellipse cx="254.2" cy="413.1" rx="2.05" ry="2.05" fill="#00cc00"/>
<ellipse cx="235.8" cy="415.7" rx="2.05" ry="2.05" fill="#00cc00"/>
<ellipse cx="241.9" cy="419" rx="2.05" ry="2.05" fill="#00cc00"/>
<ellipse cx="248" cy="418.5" rx="2.05" ry="2.05" fill="#00cc00"/>
<ellipse cx="241.9" cy="428.5" rx="2.05" ry="2.05" fill="#00cc00"/>
<ellipse cx="248" cy="430.1" rx="2.05" ry="2.05" fill="#00cc00"/>
<ellipse cx="229.8" cy="434.9" rx="2.05" ry="2.05" fill="#00cc00"/>
<ellipse cx="235.8" cy="436" rx="2.05" ry="2.05" fill="#00cc00"/>
<ellipse cx="241.9" cy="438.4" rx="2.05" ry="2.05" fill="#00cc00"/>
<ellipse cx="248" cy="438" rx="2.05" ry="2.05" fill="#00cc00"/>
<ellipse cx="254.2" cy="435.6" rx="2.05" ry="2.05" fill="#00cc00"/>
<ellipse cx="260.3" cy="433.6" rx="2.05" ry="2.05" fill="#00cc00"/>
<ellipse cx="235.8" cy="443" rx="2.05" ry="2.05" fill="#00cc00"/>
<ellipse cx="241.9" cy="444.8" rx="2.05" ry="2.05" fill="#00cc00"/>
<ellipse cx="251.1" cy="446.3" rx="2.05" ry="2.05" fill="#00cc00"/>
<ellipse cx="257.2" cy="443.5" rx="2.05" ry="2.05" fill="#00cc00"/>
<ellipse cx="232.7" cy="451.1" rx="2.05" ry="2.05" fill="#00cc00"/>
<ellipse cx="238.8" cy="453.3" rx="2.05" ry="2.05" fill="#00cc00"/>
<ellipse cx="248" cy="451.5" rx="2.05" ry="2.05" fill="#00cc00"/>
<ellipse cx="254.2" cy="451.1" rx="2.05" ry="2.05" fill="#00cc00"/>
<ellipse cx="235.8" cy="455.7" rx="2.05" ry="2.05" fill="#00cc00"/>
<ellipse cx="241.9" cy="457.9" rx="2.05" ry="2.05" fill="#00cc00"/>
<ellipse cx="248" cy="459.9" rx="2.05" ry="2.05" fill="#00cc00"/>
<ellipse cx="257.2" cy="456.6" rx="2.05" ry="2.05" fill="#00cc00"/>
<ellipse cx="232.7" cy="462.9" rx="2.05" ry="2.05" fill="#00cc00"/>
<ellipse cx="254.2" cy="462.9" rx="2.05" ry="2.05" fill="#00cc00"/>
<ellipse cx="238.8" cy="468.6" rx="2.05" ry="2.05" fill="#00cc00"/>
<ellipse cx="248" cy="467.7" rx="2.05" ry="2.05" fill="#00cc00"/>
<ellipse cx="241.9" cy="474.5" rx="2.05" ry="2.05" fill="#00cc00"/>
<ellipse cx="248" cy="477.5" rx="2.05" ry="2.05" fill="#00cc00"/>
<ellipse cx="241.9" cy="498.1" rx="2.05" ry="2.05" fill="#00cc00"/>
<ellipse cx="248" cy="496.1" rx="2.05" ry="2.05" fill="#00cc00"/>
<rect x="223.1" y="441.65" width="44.20000000000002" height="2.7" fill="#00cc00"/>
<ellipse cx="487" cy="397.8" rx="2.3" ry="1.95" fill="#ff1d00"/>
<ellipse cx="487" cy="407.4" rx="2.3" ry="1.95" fill="#ff1d00"/>
<ellipse cx="487" cy="419.4" rx="2.3" ry="1.95" fill="#ff1d00"/>
<ellipse cx="487" cy="427.8" rx="2.3" ry="1.95" fill="#ff1d00"/>
<ellipse cx="487" cy="437" rx="2.3" ry="1.95" fill="#ff1d00"/>
<ellipse cx="476.3" cy="443.1" rx="2.3" ry="1.95" fill="#ff1d00"/>
<ellipse cx="483.5" cy="446.9" rx="2.3" ry="1.95" fill="#ff1d00"/>
<ellipse cx="490.4" cy="443.8" rx="2.3" ry="1.95" fill="#ff1d00"/>
<ellipse cx="497.5" cy="441.6" rx="2.3" ry="1.95" fill="#ff1d00"/>
<ellipse cx="476.3" cy="455.1" rx="2.3" ry="1.95" fill="#ff1d00"/>
<ellipse cx="483.5" cy="456.1" rx="2.3" ry="1.95" fill="#ff1d00"/>
<ellipse cx="493.9" cy="459.9" rx="2.3" ry="1.95" fill="#ff1d00"/>
<ellipse cx="490.4" cy="462.1" rx="2.3" ry="1.95" fill="#ff1d00"/>
<ellipse cx="501" cy="456.1" rx="2.3" ry="1.95" fill="#ff1d00"/>
<ellipse cx="483.5" cy="466.1" rx="2.3" ry="1.95" fill="#ff1d00"/>
<ellipse cx="469.2" cy="468.7" rx="2.3" ry="1.95" fill="#ff1d00"/>
<ellipse cx="476.3" cy="471" rx="2.3" ry="1.95" fill="#ff1d00"/>
<ellipse cx="483.5" cy="474.4" rx="2.3" ry="1.95" fill="#ff1d00"/>
<ellipse cx="490.4" cy="474.6" rx="2.3" ry="1.95" fill="#ff1d00"/>
<ellipse cx="497.5" cy="472.7" rx="2.3" ry="1.95" fill="#ff1d00"/>
<ellipse cx="504.5" cy="471" rx="2.3" ry="1.95" fill="#ff1d00"/>
<ellipse cx="479.9" cy="478.2" rx="2.3" ry="1.95" fill="#ff1d00"/>
<ellipse cx="493.9" cy="479.8" rx="2.3" ry="1.95" fill="#ff1d00"/>
<ellipse cx="487" cy="482.1" rx="2.3" ry="1.95" fill="#ff1d00"/>
<ellipse cx="483.5" cy="484.7" rx="2.3" ry="1.95" fill="#ff1d00"/>
<ellipse cx="493.9" cy="489.9" rx="2.3" ry="1.95" fill="#ff1d00"/>
<ellipse cx="490.4" cy="495.6" rx="2.3" ry="1.95" fill="#ff1d00"/>
<ellipse cx="483.5" cy="496.9" rx="2.3" ry="1.95" fill="#ff1d00"/>
<ellipse cx="476.3" cy="502.5" rx="2.3" ry="1.95" fill="#ff1d00"/>
<ellipse cx="483.5" cy="504.2" rx="2.3" ry="1.95" fill="#ff1d00"/>
<ellipse cx="490.4" cy="505.8" rx="2.3" ry="1.95" fill="#ff1d00"/>
<ellipse cx="497.5" cy="503.7" rx="2.3" ry="1.95" fill="#ff1d00"/>
<ellipse cx="472.8" cy="507.3" rx="2.3" ry="1.95" fill="#ff1d00"/>
<ellipse cx="479.9" cy="508.7" rx="2.3" ry="1.95" fill="#ff1d00"/>
<ellipse cx="501" cy="508.4" rx="2.3" ry="1.95" fill="#ff1d00"/>
<ellipse cx="493.9" cy="511.3" rx="2.3" ry="1.95" fill="#ff1d00"/>
<ellipse cx="487" cy="513.2" rx="2.3" ry="1.95" fill="#ff1d00"/>
<ellipse cx="493.9" cy="518.2" rx="2.3" ry="1.95" fill="#ff1d00"/>
<ellipse cx="479.9" cy="520.5" rx="2.3" ry="1.95" fill="#ff1d00"/>
<ellipse cx="487" cy="520.5" rx="2.3" ry="1.95" fill="#ff1d00"/>
<ellipse cx="490.4" cy="526.8" rx="2.3" ry="1.95" fill="#ff1d00"/>
<ellipse cx="483.5" cy="532.5" rx="2.3" ry="1.95" fill="#ff1d00"/>
<ellipse cx="476.3" cy="536.4" rx="2.3" ry="1.95" fill="#ff1d00"/>
<ellipse cx="483.5" cy="539.1" rx="2.3" ry="1.95" fill="#ff1d00"/>
<ellipse cx="490.4" cy="541.5" rx="2.3" ry="1.95" fill="#ff1d00"/>
<ellipse cx="497.5" cy="538.9" rx="2.3" ry="1.95" fill="#ff1d00"/>
<ellipse cx="479.9" cy="550.3" rx="2.3" ry="1.95" fill="#ff1d00"/>
<ellipse cx="487" cy="553.6" rx="2.3" ry="1.95" fill="#ff1d00"/>
<ellipse cx="493.9" cy="553.6" rx="2.3" ry="1.95" fill="#ff1d00"/>
<rect x="462.6" y="466.15" width="48.89999999999998" height="2.7" fill="#ff1d00"/>
<ellipse cx="560.6" cy="343.1" rx="2.3" ry="1.95" fill="#0026ff"/>
<ellipse cx="560.6" cy="393" rx="2.3" ry="1.95" fill="#0026ff"/>
<ellipse cx="560.6" cy="401.7" rx="2.3" ry="1.95" fill="#0026ff"/>
<ellipse cx="564.1" cy="406.8" rx="2.3" ry="1.95" fill="#0026ff"/>
<ellipse cx="557.2" cy="409.3" rx="2.3" ry="1.95" fill="#0026ff"/>
<ellipse cx="557.2" cy="415.9" rx="2.3" ry="1.95" fill="#0026ff"/>
<ellipse cx="564.1" cy="416.4" rx="2.3" ry="1.95" fill="#0026ff"/>
<ellipse cx="539.3" cy="419.7" rx="2.3" ry="1.95" fill="#0026ff"/>
<ellipse cx="545.4" cy="421.3" rx="2.3" ry="1.95" fill="#0026ff"/>
<ellipse cx="551.6" cy="423.6" rx="2.3" ry="1.95" fill="#0026ff"/>
<ellipse cx="557.7" cy="423.8" rx="2.3" ry="1.95" fill="#0026ff"/>
<ellipse cx="563.8" cy="423.8" rx="2.3" ry="1.95" fill="#0026ff"/>
<ellipse cx="569.8" cy="422.8" rx="2.3" ry="1.95" fill="#0026ff"/>
<ellipse cx="575.8" cy="420.8" rx="2.3" ry="1.95" fill="#0026ff"/>
<ellipse cx="581.9" cy="419.5" rx="2.3" ry="1.95" fill="#0026ff"/>
<ellipse cx="574.8" cy="426.7" rx="2.3" ry="1.95" fill="#0026ff"/>
<ellipse cx="546.5" cy="429.4" rx="2.3" ry="1.95" fill="#0026ff"/>
<ellipse cx="553.6" cy="430" rx="2.3" ry="1.95" fill="#0026ff"/>
<ellipse cx="560.6" cy="430.7" rx="2.3" ry="1.95" fill="#0026ff"/>
<ellipse cx="567.7" cy="429.7" rx="2.3" ry="1.95" fill="#0026ff"/>
<ellipse cx="539.3" cy="434.3" rx="2.3" ry="1.95" fill="#0026ff"/>
<ellipse cx="545.4" cy="434.8" rx="2.3" ry="1.95" fill="#0026ff"/>
<ellipse cx="551.6" cy="436" rx="2.3" ry="1.95" fill="#0026ff"/>
<ellipse cx="557.7" cy="437.9" rx="2.3" ry="1.95" fill="#0026ff"/>
<ellipse cx="563.6" cy="436.4" rx="2.3" ry="1.95" fill="#0026ff"/>
<ellipse cx="569.8" cy="434.8" rx="2.3" ry="1.95" fill="#0026ff"/>
<ellipse cx="575.8" cy="434.5" rx="2.3" ry="1.95" fill="#0026ff"/>
<ellipse cx="581.9" cy="432.3" rx="2.3" ry="1.95" fill="#0026ff"/>
<ellipse cx="539.3" cy="439.6" rx="2.3" ry="1.95" fill="#0026ff"/>
<ellipse cx="546.5" cy="441.3" rx="2.3" ry="1.95" fill="#0026ff"/>
<ellipse cx="553.6" cy="443.8" rx="2.3" ry="1.95" fill="#0026ff"/>
<ellipse cx="560.6" cy="444.5" rx="2.3" ry="1.95" fill="#0026ff"/>
<ellipse cx="567.7" cy="442.5" rx="2.3" ry="1.95" fill="#0026ff"/>
<ellipse cx="574.8" cy="440.4" rx="2.3" ry="1.95" fill="#0026ff"/>
<ellipse cx="581.9" cy="438.9" rx="2.3" ry="1.95" fill="#0026ff"/>
<ellipse cx="539.3" cy="446.4" rx="2.3" ry="1.95" fill="#0026ff"/>
<ellipse cx="544.9" cy="447.9" rx="2.3" ry="1.95" fill="#0026ff"/>
<ellipse cx="550" cy="448.8" rx="2.3" ry="1.95" fill="#0026ff"/>
<ellipse cx="555.5" cy="450.1" rx="2.3" ry="1.95" fill="#0026ff"/>
<ellipse cx="560.6" cy="451.9" rx="2.3" ry="1.95" fill="#0026ff"/>
<ellipse cx="565.9" cy="451.5" rx="2.3" ry="1.95" fill="#0026ff"/>
<ellipse cx="571" cy="450.1" rx="2.3" ry="1.95" fill="#0026ff"/>
<ellipse cx="576.6" cy="448.1" rx="2.3" ry="1.95" fill="#0026ff"/>
<ellipse cx="581.9" cy="447.1" rx="2.3" ry="1.95" fill="#0026ff"/>
<ellipse cx="539.3" cy="452.9" rx="2.3" ry="1.95" fill="#0026ff"/>
<ellipse cx="545.4" cy="455.8" rx="2.3" ry="1.95" fill="#0026ff"/>
<ellipse cx="551.6" cy="455.8" rx="2.3" ry="1.95" fill="#0026ff"/>
<ellipse cx="569.8" cy="456.8" rx="2.3" ry="1.95" fill="#0026ff"/>
<ellipse cx="575.8" cy="455.8" rx="2.3" ry="1.95" fill="#0026ff"/>
<ellipse cx="581.9" cy="454.2" rx="2.3" ry="1.95" fill="#0026ff"/>
<ellipse cx="557.7" cy="458.3" rx="2.3" ry="1.95" fill="#0026ff"/>
<ellipse cx="563.6" cy="458.8" rx="2.3" ry="1.95" fill="#0026ff"/>
<ellipse cx="543.2" cy="460.7" rx="2.3" ry="1.95" fill="#0026ff"/>
<ellipse cx="571.2" cy="461.1" rx="2.3" ry="1.95" fill="#0026ff"/>
<ellipse cx="578.1" cy="460.4" rx="2.3" ry="1.95" fill="#0026ff"/>
<ellipse cx="550" cy="463.8" rx="2.3" ry="1.95" fill="#0026ff"/>
<ellipse cx="557.2" cy="465.3" rx="2.3" ry="1.95" fill="#0026ff"/>
<ellipse cx="564.1" cy="465.2" rx="2.3" ry="1.95" fill="#0026ff"/>
<ellipse cx="543.2" cy="469.5" rx="2.3" ry="1.95" fill="#0026ff"/>
<ellipse cx="550" cy="472.9" rx="2.3" ry="1.95" fill="#0026ff"/>
<ellipse cx="557.2" cy="474.2" rx="2.3" ry="1.95" fill="#0026ff"/>
<ellipse cx="564.1" cy="475.4" rx="2.3" ry="1.95" fill="#0026ff"/>
<ellipse cx="571.2" cy="473.2" rx="2.3" ry="1.95" fill="#0026ff"/>
<ellipse cx="578.1" cy="470.8" rx="2.3" ry="1.95" fill="#0026ff"/>
<ellipse cx="543.2" cy="478" rx="2.3" ry="1.95" fill="#0026ff"/>
<ellipse cx="550" cy="481.1" rx="2.3" ry="1.95" fill="#0026ff"/>
<ellipse cx="560.6" cy="482.4" rx="2.3" ry="1.95" fill="#0026ff"/>
<ellipse cx="571.2" cy="481.1" rx="2.3" ry="1.95" fill="#0026ff"/>
<ellipse cx="578.1" cy="479" rx="2.3" ry="1.95" fill="#0026ff"/>
<ellipse cx="546.5" cy="484.6" rx="2.3" ry="1.95" fill="#0026ff"/>
<ellipse cx="553.6" cy="485.7" rx="2.3" ry="1.95" fill="#0026ff"/>
<ellipse cx="567.7" cy="484.6" rx="2.3" ry="1.95" fill="#0026ff"/>
<ellipse cx="574.8" cy="484.6" rx="2.3" ry="1.95" fill="#0026ff"/>
<ellipse cx="560.6" cy="489.5" rx="2.3" ry="1.95" fill="#0026ff"/>
<ellipse cx="553.6" cy="492.6" rx="2.3" ry="1.95" fill="#0026ff"/>
<ellipse cx="567.7" cy="494" rx="2.3" ry="1.95" fill="#0026ff"/>
<ellipse cx="560.6" cy="496.8" rx="2.3" ry="1.95" fill="#0026ff"/>
<ellipse cx="557.2" cy="498" rx="2.3" ry="1.95" fill="#0026ff"/>
<ellipse cx="567.7" cy="503.8" rx="2.3" ry="1.95" fill="#0026ff"/>
<ellipse cx="564.1" cy="507.4" rx="2.3" ry="1.95" fill="#0026ff"/>
<ellipse cx="557.2" cy="512.3" rx="2.3" ry="1.95" fill="#0026ff"/>
<ellipse cx="560.6" cy="519.1" rx="2.3" ry="1.95" fill="#0026ff"/>
<ellipse cx="553.6" cy="525.6" rx="2.3" ry="1.95" fill="#0026ff"/>
<ellipse cx="557.2" cy="527.8" rx="2.3" ry="1.95" fill="#0026ff"/>
<ellipse cx="564.1" cy="524.9" rx="2.3" ry="1.95" fill="#0026ff"/>
<ellipse cx="564.1" cy="532.6" rx="2.3" ry="1.95" fill="#0026ff"/>
<ellipse cx="553.6" cy="535.5" rx="2.3" ry="1.95" fill="#0026ff"/>
<ellipse cx="567.7" cy="535.5" rx="2.3" ry="1.95" fill="#0026ff"/>
<ellipse cx="560.6" cy="540.9" rx="2.3" ry="1.95" fill="#0026ff"/>
<rect x="536.2" y="451.65" width="48.89999999999998" height="2.7" fill="#0026ff"/>
<ellipse cx="634.3" cy="400.7" rx="2.3" ry="1.95" fill="#00cc00"/>
<ellipse cx="627.3" cy="412.1" rx="2.3" ry="1.95" fill="#00cc00"/>
<ellipse cx="634.3" cy="416.5" rx="2.3" ry="1.95" fill="#00cc00"/>
<ellipse cx="644.9" cy="415.8" rx="2.3" ry="1.95" fill="#00cc00"/>
<ellipse cx="620.3" cy="420.6" rx="2.3" ry="1.95" fill="#00cc00"/>
<ellipse cx="627.3" cy="421.7" rx="2.3" ry="1.95" fill="#00cc00"/>
<ellipse cx="634.3" cy="423.2" rx="2.3" ry="1.95" fill="#00cc00"/>
<ellipse cx="641.3" cy="420.9" rx="2.3" ry="1.95" fill="#00cc00"/>
<ellipse cx="648.4" cy="420.1" rx="2.3" ry="1.95" fill="#00cc00"/>
<ellipse cx="623.7" cy="432.2" rx="2.3" ry="1.95" fill="#00cc00"/>
<ellipse cx="630.8" cy="435.2" rx="2.3" ry="1.95" fill="#00cc00"/>
<ellipse cx="637.8" cy="435" rx="2.3" ry="1.95" fill="#00cc00"/>
<ellipse cx="644.9" cy="430.6" rx="2.3" ry="1.95" fill="#00cc00"/>
<ellipse cx="620.3" cy="442.5" rx="2.3" ry="1.95" fill="#00cc00"/>
<ellipse cx="641.3" cy="443.7" rx="2.3" ry="1.95" fill="#00cc00"/>
<ellipse cx="648.4" cy="442.1" rx="2.3" ry="1.95" fill="#00cc00"/>
<ellipse cx="627.3" cy="446.8" rx="2.3" ry="1.95" fill="#00cc00"/>
<ellipse cx="634.3" cy="447.4" rx="2.3" ry="1.95" fill="#00cc00"/>
<ellipse cx="623.7" cy="454.7" rx="2.3" ry="1.95" fill="#00cc00"/>
<ellipse cx="630.8" cy="456.5" rx="2.3" ry="1.95" fill="#00cc00"/>
<ellipse cx="637.8" cy="456" rx="2.3" ry="1.95" fill="#00cc00"/>
<ellipse cx="644.9" cy="453" rx="2.3" ry="1.95" fill="#00cc00"/>
<ellipse cx="616.8" cy="461.3" rx="2.3" ry="1.95" fill="#00cc00"/>
<ellipse cx="623.7" cy="463.7" rx="2.3" ry="1.95" fill="#00cc00"/>
<ellipse cx="630.8" cy="464.8" rx="2.3" ry="1.95" fill="#00cc00"/>
<ellipse cx="637.8" cy="465.2" rx="2.3" ry="1.95" fill="#00cc00"/>
<ellipse cx="644.9" cy="463.7" rx="2.3" ry="1.95" fill="#00cc00"/>
<ellipse cx="651.9" cy="462.2" rx="2.3" ry="1.95" fill="#00cc00"/>
<ellipse cx="630.8" cy="481" rx="2.3" ry="1.95" fill="#00cc00"/>
<ellipse cx="637.8" cy="478.8" rx="2.3" ry="1.95" fill="#00cc00"/>
<ellipse cx="641.3" cy="489.9" rx="2.3" ry="1.95" fill="#00cc00"/>
<ellipse cx="627.3" cy="493.8" rx="2.3" ry="1.95" fill="#00cc00"/>
<ellipse cx="634.3" cy="494.3" rx="2.3" ry="1.95" fill="#00cc00"/>
<ellipse cx="627.3" cy="507.8" rx="2.3" ry="1.95" fill="#00cc00"/>
<ellipse cx="634.3" cy="510.3" rx="2.3" ry="1.95" fill="#00cc00"/>
<ellipse cx="641.3" cy="510.3" rx="2.3" ry="1.95" fill="#00cc00"/>
<ellipse cx="634.3" cy="522.8" rx="2.3" ry="1.95" fill="#00cc00"/>
<ellipse cx="630.7" cy="548.2" rx="2.3" ry="1.95" fill="#00cc00"/>
<ellipse cx="637.8" cy="545.9" rx="2.3" ry="1.95" fill="#00cc00"/>
<rect x="610.1" y="453.04999999999995" width="48.799999999999955" height="2.7" fill="#00cc00"/>
</svg></body></html>
